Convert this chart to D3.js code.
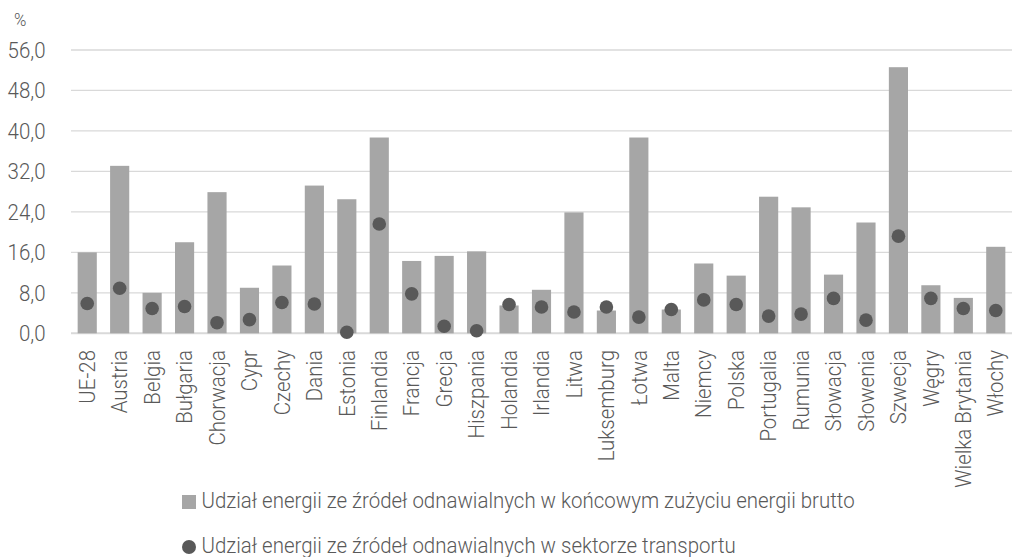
<!DOCTYPE html>
<html>
<head>
<meta charset="utf-8">
<script src="https://cdn.jsdelivr.net/npm/d3@7"></script>
<style>
  body { margin: 0; background: #fff; }
  text { font-family: Roboto, "Noto Sans", sans-serif; font-weight: 300; fill: #595959; }
</style>
</head>
<body>
<script>
// kraje (kolejność jak na wykresie)
var kraje = ["UE-28", "Austria", "Belgia", "Bułgaria", "Chorwacja", "Cypr", "Czechy", "Dania",
  "Estonia", "Finlandia", "Francja", "Grecja", "Hiszpania", "Holandia", "Irlandia", "Litwa",
  "Luksemburg", "Łotwa", "Malta", "Niemcy", "Polska", "Portugalia", "Rumunia", "Słowacja",
  "Słowenia", "Szwecja", "Węgry", "Wielka Brytania", "Włochy"];
// udział OZE w końcowym zużyciu energii brutto (%)
var brutto = [16.0, 33.1, 8.0, 18.0, 27.9, 9.0, 13.4, 29.2, 26.5, 38.7, 14.3, 15.3, 16.2, 5.5,
  8.6, 23.9, 4.5, 38.7, 4.7, 13.8, 11.4, 27.0, 24.9, 11.6, 21.9, 52.6, 9.5, 7.0, 17.1];
// udział OZE w sektorze transportu (%)
var transport = [5.9, 8.9, 4.9, 5.3, 2.1, 2.7, 6.1, 5.8, 0.2, 21.6, 7.8, 1.4, 0.5, 5.7,
  5.2, 4.2, 5.2, 3.2, 4.7, 6.6, 5.7, 3.4, 3.8, 6.9, 2.6, 19.2, 6.9, 4.9, 4.5];
var yTicks = [0, 8, 16, 24, 32, 40, 48, 56];
var legendy = ["Udział energii ze źródeł odnawialnych w końcowym zużyciu energii brutto",
  "Udział energii ze źródeł odnawialnych w sektorze transportu"];

var W = 1016, H = 557;
var k = 0.93; // zwężenie tekstu (imitacja kroju condensed)

var svg = d3.select("body").append("svg")
  .attr("width", W)
  .attr("height", H);

var x = d3.scaleBand().domain(kraje).range([71, 1012]).paddingInner(0.41).paddingOuter(0.205);
var y = d3.scaleLinear().domain([0, 56]).range([333.3, 50]);
var fmt = function (v) { return d3.format(".1f")(v).replace(".", ","); };

// linie siatki
svg.append("g").selectAll("line")
  .data(yTicks)
  .enter().append("line")
  .attr("x1", 71).attr("x2", 1012)
  .attr("y1", function (d) { return y(d); })
  .attr("y2", function (d) { return y(d); })
  .attr("stroke", "#d9d9d9")
  .attr("stroke-width", function (d) { return d === 0 ? 2 : 1.3; });

// etykiety osi Y
svg.append("g").selectAll("text")
  .data(yTicks)
  .enter().append("text")
  .attr("transform", function (d) { return "translate(45.5," + y(d) + ") scale(" + k + ",1)"; })
  .attr("dy", "0.35em")
  .attr("text-anchor", "end")
  .style("font-size", "22px")
  .text(fmt);

svg.append("text")
  .attr("transform", "translate(14,26) scale(" + k + ",1)")
  .style("font-size", "18px")
  .text("%");

// słupki
svg.append("g").selectAll("rect")
  .data(kraje)
  .enter().append("rect")
  .attr("x", function (d) { return x(d); })
  .attr("width", x.bandwidth())
  .attr("y", function (d, i) { return y(brutto[i]); })
  .attr("height", function (d, i) { return y(0) - y(brutto[i]); })
  .attr("fill", "#a6a6a6");

// punkty
svg.append("g").selectAll("circle")
  .data(kraje)
  .enter().append("circle")
  .attr("cx", function (d) { return x(d) + x.bandwidth() / 2; })
  .attr("cy", function (d, i) { return y(transport[i]); })
  .attr("r", 6.8)
  .attr("fill", "#595959");

// etykiety osi X
svg.append("g").selectAll("text")
  .data(kraje)
  .enter().append("text")
  .attr("transform", function (d) {
    return "translate(" + (x(d) + x.bandwidth() / 2) + ",350) rotate(-90) scale(" + k + ",1)";
  })
  .attr("dy", "0.35em")
  .attr("text-anchor", "end")
  .style("font-size", "22px")
  .text(function (d) { return d; });

// legenda
var leg = svg.append("g");
leg.append("rect")
  .attr("x", 182).attr("y", 495)
  .attr("width", 14).attr("height", 14)
  .attr("fill", "#a6a6a6");
leg.append("circle")
  .attr("cx", 189).attr("cy", 547).attr("r", 7)
  .attr("fill", "#595959");
leg.selectAll("text")
  .data(legendy)
  .enter().append("text")
  .attr("transform", function (d, i) { return "translate(201.5," + (508 + i * 45) + ") scale(" + k + ",1)"; })
  .style("font-size", "22px")
  .text(function (d) { return d; });
</script>
</body>
</html>
